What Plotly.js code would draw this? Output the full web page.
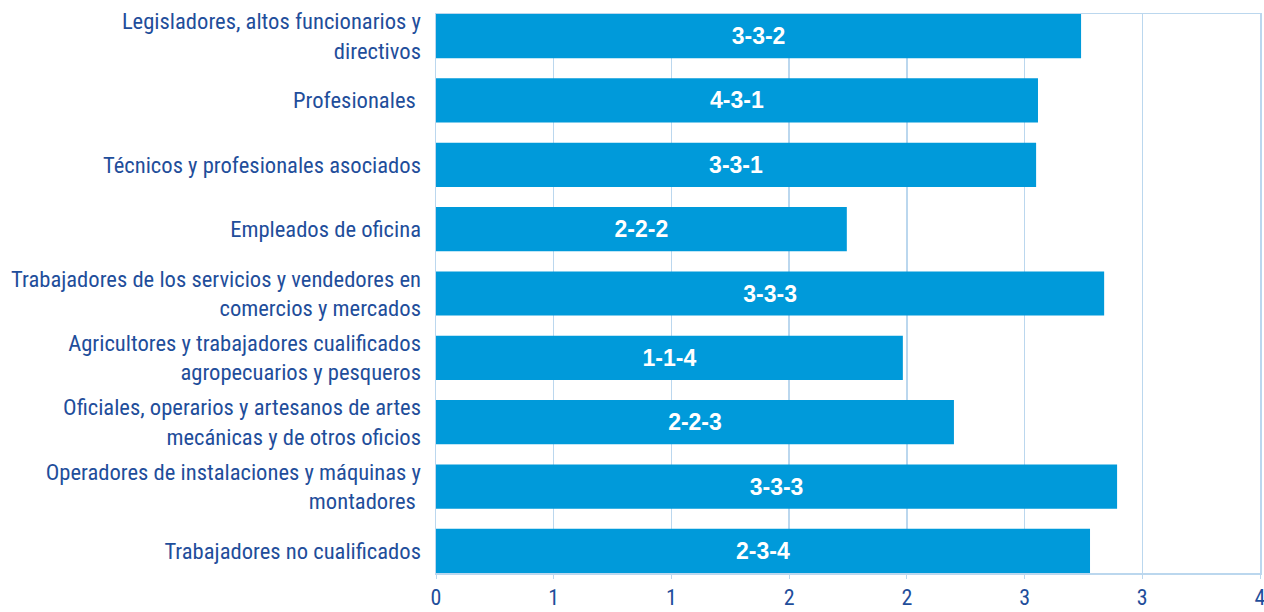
<!DOCTYPE html>
<html>
<head>
<meta charset="utf-8">
<script src="https://cdn.plot.ly/plotly-3.0.1.min.js"></script>
<style>
html,body{margin:0;padding:0;background:#fff;}
#chart{width:1264px;height:612px;}
</style>
</head>
<body>
<div id="chart"></div>
<script>
const categories = [
  "Legisladores, altos funcionarios y<br>directivos",
  "Profesionales ",
  "Técnicos y profesionales asociados",
  "Empleados de oficina",
  "Trabajadores de los servicios y vendedores en<br>comercios y mercados",
  "Agricultores y trabajadores cualificados<br>agropecuarios y pesqueros",
  "Oficiales, operarios y artesanos de artes<br>mecánicas y de otros oficios",
  "Operadores de instalaciones y máquinas y<br>montadores ",
  "Trabajadores no cualificados"
];
const values = [2.74, 2.557, 2.549, 1.745, 2.838, 1.983, 2.20, 2.893, 2.778];
const codes = ["3-3-2", "4-3-1", "3-3-1", "2-2-2", "3-3-3", "1-1-4", "2-2-3", "3-3-3", "2-3-4"];
const tickValues = [0, 0.5, 1, 1.5, 2, 2.5, 3, 3.5];
const tickLabels = ["0", "1", "1", "2", "2", "3", "3", "4"];

const narrow = '"Liberation Sans Narrow", "Arial Narrow", "Roboto Condensed", "Liberation Sans", Arial, sans-serif';
const blue = "#1F4E9B";
const gridCol = "#BBD7EE";

const trace = {
  type: "bar",
  orientation: "h",
  x: values,
  y: categories,
  text: codes,
  textposition: "inside",
  insidetextanchor: "middle",
  textfont: {family: '"Liberation Sans", Arial, sans-serif', size: 23, color: "#ffffff", weight: "bold"},
  marker: {color: "#009ADA", line: {width: 0}},
  hoverinfo: "none",
  cliponaxis: false
};

const layout = {
  width: 1264,
  height: 612,
  margin: {l: 436, r: 4, t: 13.5, b: 38.5, pad: 0},
  paper_bgcolor: "#ffffff",
  plot_bgcolor: "#ffffff",
  showlegend: false,
  bargap: 0.3125,
  xaxis: {
    range: [0, 3.5],
    tickvals: tickValues,
    ticktext: tickLabels,
    showgrid: true,
    gridcolor: gridCol,
    gridwidth: 1.5,
    zeroline: false,
    showline: true,
    linecolor: gridCol,
    linewidth: 1.5,
    mirror: true,
    ticks: "outside",
    ticklen: 4,
    tickcolor: gridCol,
    ticklabelstandoff: 0,
    ticklabeloverflow: "allow",
    tickfont: {family: narrow, size: 22, color: blue},
    fixedrange: true
  },
  yaxis: {
    type: "category",
    categoryorder: "array",
    categoryarray: categories,
    range: [8.344, -0.344],
    showgrid: false,
    zeroline: false,
    showline: true,
    linecolor: gridCol,
    linewidth: 1.5,
    mirror: true,
    ticks: "",
    ticklabelstandoff: 9,
    tickfont: {family: narrow, size: 22.6, color: blue},
    fixedrange: true
  }
};

Plotly.newPlot("chart", [trace], layout, {displayModeBar: false, staticPlot: true});
</script>
</body>
</html>
